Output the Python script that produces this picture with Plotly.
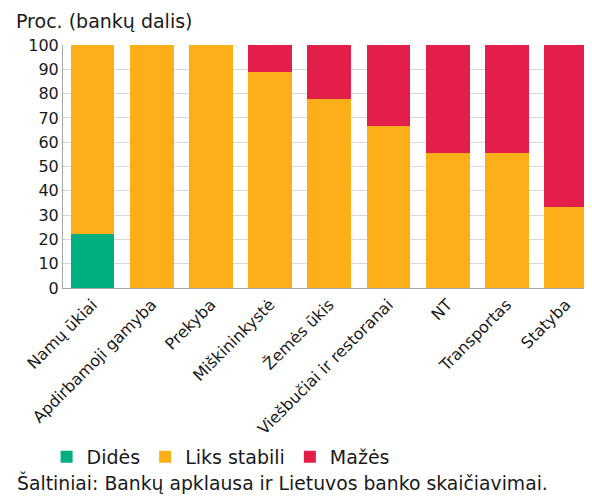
import plotly.graph_objects as go

categories = ["Namų ūkiai", "Apdirbamoji gamyba", "Prekyba", "Miškininkystė", "Žemės ūkis",
              "Viešbučiai ir restoranai", "NT", "Transportas", "Statyba"]
didės = [22.2, 0, 0, 0, 0, 0, 0, 0, 0]
liks_stabili = [77.8, 100, 100, 88.9, 77.8, 66.7, 55.6, 55.6, 33.3]
mažės = [0, 0, 0, 11.1, 22.2, 33.3, 44.4, 44.4, 66.7]

FONT = "DejaVu Sans, Verdana, sans-serif"

fig = go.Figure()
for name, vals, color in [("Didės", didės, "#00AF80"),
                          ("Liks stabili", liks_stabili, "#FCAF19"),
                          ("Mažės", mažės, "#E31E4A")]:
    fig.add_trace(go.Bar(x=list(range(len(categories))), y=vals, name=name,
                         marker=dict(color=color, line=dict(width=0))))

# the page body adds an 8px margin, so the figure is 8px smaller than the window
fig.update_layout(
    barmode="stack",
    bargap=0.26,
    width=584, height=491,
    margin=dict(l=55, r=0, t=37, b=211),
    plot_bgcolor="white", paper_bgcolor="white",
    font=dict(family=FONT, size=16, color="#1a1a1a"),
    showlegend=True,
    legend=dict(orientation="h", x=-0.031, xanchor="left", y=-0.695, yanchor="middle",
                font=dict(size=19), traceorder="normal", itemwidth=30),
)
fig.update_xaxes(
    tickvals=list(range(len(categories))), ticktext=categories, tickangle=-45,
    range=[-0.5, 8.44], showline=True, linecolor="#A6A6A6", linewidth=1,
    showgrid=False, ticks="", tickfont=dict(size=16), automargin=False,
)
fig.update_yaxes(
    range=[0, 100], dtick=10, showline=True, linecolor="#A6A6A6", linewidth=1,
    showgrid=True, gridcolor="#D9D9D9", gridwidth=1, ticks="", zeroline=False,
    tickfont=dict(size=16), automargin=False,
)
fig.add_annotation(text="Proc. (bankų dalis)", xref="paper", yref="paper",
                   x=-0.093, y=1.099, xanchor="left", yanchor="middle",
                   showarrow=False, font=dict(size=19))
fig.add_annotation(text="Šaltiniai: Bankų apklausa ir Lietuvos banko skaičiavimai.",
                   xref="paper", yref="paper", x=-0.091, y=-0.802,
                   xanchor="left", yanchor="middle", showarrow=False, font=dict(size=18.8))

fig.write_html("out.html")
